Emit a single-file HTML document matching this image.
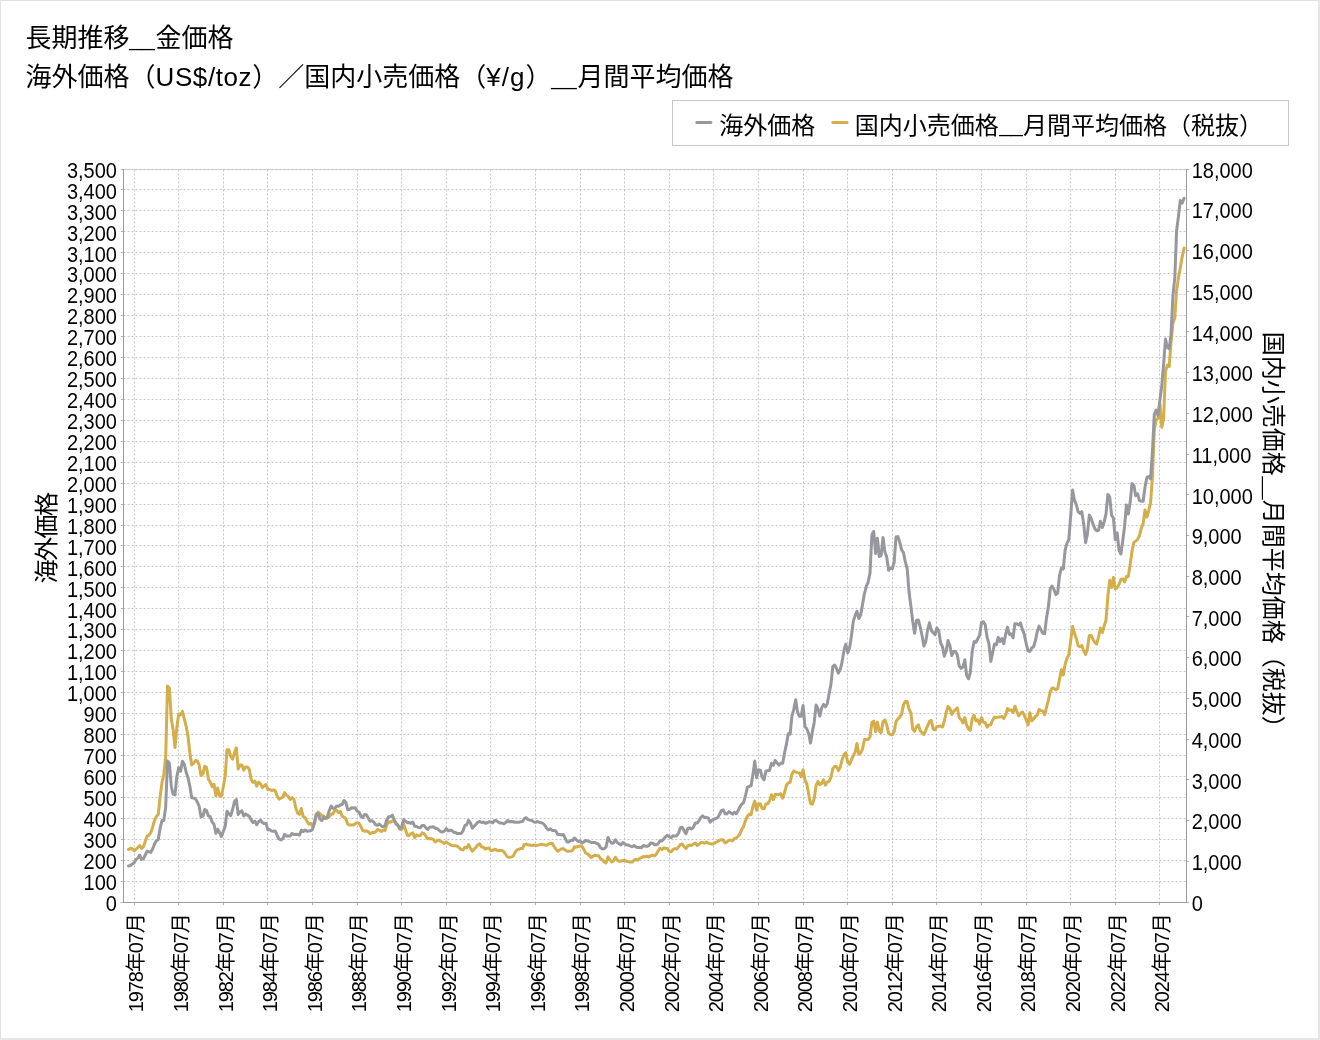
<!DOCTYPE html>
<html lang="ja"><head><meta charset="utf-8"><title>長期推移__金価格</title>
<style>html,body{margin:0;padding:0;background:#fff}body{width:1320px;height:1040px;overflow:hidden}svg{display:block;will-change:transform;font-family:"Liberation Sans", "Noto Sans CJK JP", sans-serif}.t{font-size:26px;fill:#000}.lg{font-size:24px;fill:#000}.ax{font-size:20px;fill:#000}.g{stroke:#c4c4c4;stroke-width:1;stroke-dasharray:2 2;fill:none}.al{stroke:#9c9c9c;stroke-width:1;fill:none}</style></head><body>
<svg width="1320" height="1040" viewBox="0 0 1320 1040">
<rect x="0" y="0" width="1320" height="1040" fill="#fff"/>
<rect x="0" y="0" width="1320" height="1" fill="#e2e2e2"/><rect x="0" y="0" width="1" height="1040" fill="#e2e2e2"/>
<rect x="1318" y="0" width="2" height="1040" fill="#e6e6e6"/><rect x="0" y="1038" width="1320" height="2" fill="#e6e6e6"/>
<text class="t" x="25.5" y="47.4">長期推移</text>
<text font-size="20.47" transform="translate(129.25 46.13) scale(1.1196 1)">__</text>
<text class="t" x="155.5" y="47.4">金価格</text>
<text class="t" y="86.4"><tspan x="25.5">海外価格（</tspan><tspan x="155.5" letter-spacing="0.6">US$/toz</tspan><tspan x="252.3">）／国内小売価格（</tspan><tspan x="486.3" letter-spacing="1.05">¥/g</tspan><tspan x="525.6">）</tspan></text>
<text font-size="20.47" transform="translate(551.34 85.03) scale(1.1110 1)">__</text>
<text class="t" x="577.6" y="86.4">月間平均価格</text>
<rect x="672.5" y="100.5" width="616" height="45" fill="#fff" stroke="#c9c9c9" stroke-width="1"/>
<line x1="696.8" y1="122.5" x2="710.9" y2="122.5" stroke="#96989e" stroke-width="3" stroke-linecap="round"/>
<line x1="832.9" y1="122.5" x2="847" y2="122.5" stroke="#d4ae4a" stroke-width="3" stroke-linecap="round"/>
<text class="lg" x="719.3" y="133.7">海外価格</text>
<text class="lg" x="854.8" y="133.7">国内小売価格</text>
<text font-size="19.69" transform="translate(999.32 132.16) scale(1.0752 1)">__</text>
<text class="lg" x="1023" y="133.7">月間平均価格（税抜）</text>
<path d="M123.5 169.5H1186.5" stroke="#d6d6d6" stroke-width="1" fill="none"/>
<path class="g" d="M123.5 902.5H1186.5M123.5 881.5H1186.5M123.5 860.5H1186.5M123.5 839.5H1186.5M123.5 818.5H1186.5M123.5 797.5H1186.5M123.5 776.5H1186.5M123.5 755.5H1186.5M123.5 734.5H1186.5M123.5 713.5H1186.5M123.5 692.5H1186.5M123.5 671.5H1186.5M123.5 650.5H1186.5M123.5 629.5H1186.5M123.5 608.5H1186.5M123.5 587.5H1186.5M123.5 566.5H1186.5M123.5 545.5H1186.5M123.5 525.5H1186.5M123.5 504.5H1186.5M123.5 483.5H1186.5M123.5 462.5H1186.5M123.5 441.5H1186.5M123.5 420.5H1186.5M123.5 399.5H1186.5M123.5 378.5H1186.5M123.5 357.5H1186.5M123.5 336.5H1186.5M123.5 315.5H1186.5M123.5 294.5H1186.5M123.5 273.5H1186.5M123.5 252.5H1186.5M123.5 231.5H1186.5M123.5 210.5H1186.5M123.5 189.5H1186.5M123.5 169.5H1186.5M134.5 169.5V902.5M178.5 169.5V902.5M223.5 169.5V902.5M267.5 169.5V902.5M312.5 169.5V902.5M357.5 169.5V902.5M401.5 169.5V902.5M446.5 169.5V902.5M490.5 169.5V902.5M535.5 169.5V902.5M580.5 169.5V902.5M624.5 169.5V902.5M669.5 169.5V902.5M713.5 169.5V902.5M758.5 169.5V902.5M803.5 169.5V902.5M847.5 169.5V902.5M892.5 169.5V902.5M936.5 169.5V902.5M981.5 169.5V902.5M1026.5 169.5V902.5M1070.5 169.5V902.5M1115.5 169.5V902.5M1159.5 169.5V902.5"/>
<path d="M123.0 902.5h-2.2M123.0 881.5h-2.2M123.0 860.5h-2.2M123.0 839.5h-2.2M123.0 818.5h-2.2M123.0 797.5h-2.2M123.0 776.5h-2.2M123.0 755.5h-2.2M123.0 734.5h-2.2M123.0 713.5h-2.2M123.0 692.5h-2.2M123.0 671.5h-2.2M123.0 650.5h-2.2M123.0 629.5h-2.2M123.0 608.5h-2.2M123.0 587.5h-2.2M123.0 566.5h-2.2M123.0 545.5h-2.2M123.0 525.5h-2.2M123.0 504.5h-2.2M123.0 483.5h-2.2M123.0 462.5h-2.2M123.0 441.5h-2.2M123.0 420.5h-2.2M123.0 399.5h-2.2M123.0 378.5h-2.2M123.0 357.5h-2.2M123.0 336.5h-2.2M123.0 315.5h-2.2M123.0 294.5h-2.2M123.0 273.5h-2.2M123.0 252.5h-2.2M123.0 231.5h-2.2M123.0 210.5h-2.2M123.0 189.5h-2.2M123.0 169.5h-2.2M1187.0 902.5h2.2M1187.0 861.5h2.2M1187.0 820.5h2.2M1187.0 779.5h2.2M1187.0 739.5h2.2M1187.0 698.5h2.2M1187.0 657.5h2.2M1187.0 616.5h2.2M1187.0 576.5h2.2M1187.0 535.5h2.2M1187.0 494.5h2.2M1187.0 454.5h2.2M1187.0 413.5h2.2M1187.0 372.5h2.2M1187.0 331.5h2.2M1187.0 291.5h2.2M1187.0 250.5h2.2M1187.0 209.5h2.2M1187.0 169.5h2.2M134.5 903.0v2.2M178.5 903.0v2.2M223.5 903.0v2.2M267.5 903.0v2.2M312.5 903.0v2.2M357.5 903.0v2.2M401.5 903.0v2.2M446.5 903.0v2.2M490.5 903.0v2.2M535.5 903.0v2.2M580.5 903.0v2.2M624.5 903.0v2.2M669.5 903.0v2.2M713.5 903.0v2.2M758.5 903.0v2.2M803.5 903.0v2.2M847.5 903.0v2.2M892.5 903.0v2.2M936.5 903.0v2.2M981.5 903.0v2.2M1026.5 903.0v2.2M1070.5 903.0v2.2M1115.5 903.0v2.2M1159.5 903.0v2.2" stroke="#b2b2b2" stroke-width="1" fill="none"/>
<path class="al" d="M123.5 169.0V903.0M123.0 902.5H1187.0M1186.5 169.0V903.0"/>
<g class="ax" text-anchor="end">
<text transform="translate(116.9 910.7) scale(1 1.06)">0</text>
<text transform="translate(116.9 889.8) scale(1 1.06)">100</text>
<text transform="translate(116.9 868.8) scale(1 1.06)">200</text>
<text transform="translate(116.9 847.9) scale(1 1.06)">300</text>
<text transform="translate(116.9 826.9) scale(1 1.06)">400</text>
<text transform="translate(116.9 806.0) scale(1 1.06)">500</text>
<text transform="translate(116.9 785.0) scale(1 1.06)">600</text>
<text transform="translate(116.9 764.1) scale(1 1.06)">700</text>
<text transform="translate(116.9 743.2) scale(1 1.06)">800</text>
<text transform="translate(116.9 722.2) scale(1 1.06)">900</text>
<text transform="translate(116.9 701.3) scale(1 1.06)">1,000</text>
<text transform="translate(116.9 680.3) scale(1 1.06)">1,100</text>
<text transform="translate(116.9 659.4) scale(1 1.06)">1,200</text>
<text transform="translate(116.9 638.4) scale(1 1.06)">1,300</text>
<text transform="translate(116.9 617.5) scale(1 1.06)">1,400</text>
<text transform="translate(116.9 596.6) scale(1 1.06)">1,500</text>
<text transform="translate(116.9 575.6) scale(1 1.06)">1,600</text>
<text transform="translate(116.9 554.7) scale(1 1.06)">1,700</text>
<text transform="translate(116.9 533.7) scale(1 1.06)">1,800</text>
<text transform="translate(116.9 512.8) scale(1 1.06)">1,900</text>
<text transform="translate(116.9 491.8) scale(1 1.06)">2,000</text>
<text transform="translate(116.9 470.9) scale(1 1.06)">2,100</text>
<text transform="translate(116.9 450.0) scale(1 1.06)">2,200</text>
<text transform="translate(116.9 429.0) scale(1 1.06)">2,300</text>
<text transform="translate(116.9 408.1) scale(1 1.06)">2,400</text>
<text transform="translate(116.9 387.1) scale(1 1.06)">2,500</text>
<text transform="translate(116.9 366.2) scale(1 1.06)">2,600</text>
<text transform="translate(116.9 345.2) scale(1 1.06)">2,700</text>
<text transform="translate(116.9 324.3) scale(1 1.06)">2,800</text>
<text transform="translate(116.9 303.4) scale(1 1.06)">2,900</text>
<text transform="translate(116.9 282.4) scale(1 1.06)">3,000</text>
<text transform="translate(116.9 261.5) scale(1 1.06)">3,100</text>
<text transform="translate(116.9 240.5) scale(1 1.06)">3,200</text>
<text transform="translate(116.9 219.6) scale(1 1.06)">3,300</text>
<text transform="translate(116.9 198.6) scale(1 1.06)">3,400</text>
<text transform="translate(116.9 177.7) scale(1 1.06)">3,500</text>
</g>
<g class="ax">
<text transform="translate(1191.7 910.7) scale(1 1.06)">0</text>
<text transform="translate(1191.7 870.0) scale(1 1.06)">1,000</text>
<text transform="translate(1191.7 829.3) scale(1 1.06)">2,000</text>
<text transform="translate(1191.7 788.5) scale(1 1.06)">3,000</text>
<text transform="translate(1191.7 747.8) scale(1 1.06)">4,000</text>
<text transform="translate(1191.7 707.1) scale(1 1.06)">5,000</text>
<text transform="translate(1191.7 666.4) scale(1 1.06)">6,000</text>
<text transform="translate(1191.7 625.6) scale(1 1.06)">7,000</text>
<text transform="translate(1191.7 584.9) scale(1 1.06)">8,000</text>
<text transform="translate(1191.7 544.2) scale(1 1.06)">9,000</text>
<text transform="translate(1191.7 503.5) scale(1 1.06)">10,000</text>
<text transform="translate(1191.7 462.8) scale(1 1.06)">11,000</text>
<text transform="translate(1191.7 422.0) scale(1 1.06)">12,000</text>
<text transform="translate(1191.7 381.3) scale(1 1.06)">13,000</text>
<text transform="translate(1191.7 340.6) scale(1 1.06)">14,000</text>
<text transform="translate(1191.7 299.9) scale(1 1.06)">15,000</text>
<text transform="translate(1191.7 259.1) scale(1 1.06)">16,000</text>
<text transform="translate(1191.7 218.4) scale(1 1.06)">17,000</text>
<text transform="translate(1191.7 177.7) scale(1 1.06)">18,000</text>
</g>
<g class="ax" letter-spacing="-1.11">
<text transform="translate(143.35 1012.2) rotate(-90)">1978年07月</text>
<text transform="translate(187.95 1012.2) rotate(-90)">1980年07月</text>
<text transform="translate(232.55 1012.2) rotate(-90)">1982年07月</text>
<text transform="translate(277.15 1012.2) rotate(-90)">1984年07月</text>
<text transform="translate(321.75 1012.2) rotate(-90)">1986年07月</text>
<text transform="translate(366.35 1012.2) rotate(-90)">1988年07月</text>
<text transform="translate(410.95 1012.2) rotate(-90)">1990年07月</text>
<text transform="translate(455.55 1012.2) rotate(-90)">1992年07月</text>
<text transform="translate(500.15 1012.2) rotate(-90)">1994年07月</text>
<text transform="translate(544.75 1012.2) rotate(-90)">1996年07月</text>
<text transform="translate(589.35 1012.2) rotate(-90)">1998年07月</text>
<text transform="translate(633.95 1012.2) rotate(-90)">2000年07月</text>
<text transform="translate(678.55 1012.2) rotate(-90)">2002年07月</text>
<text transform="translate(723.15 1012.2) rotate(-90)">2004年07月</text>
<text transform="translate(767.75 1012.2) rotate(-90)">2006年07月</text>
<text transform="translate(812.35 1012.2) rotate(-90)">2008年07月</text>
<text transform="translate(856.95 1012.2) rotate(-90)">2010年07月</text>
<text transform="translate(901.55 1012.2) rotate(-90)">2012年07月</text>
<text transform="translate(946.15 1012.2) rotate(-90)">2014年07月</text>
<text transform="translate(990.75 1012.2) rotate(-90)">2016年07月</text>
<text transform="translate(1035.35 1012.2) rotate(-90)">2018年07月</text>
<text transform="translate(1079.95 1012.2) rotate(-90)">2020年07月</text>
<text transform="translate(1124.55 1012.2) rotate(-90)">2022年07月</text>
<text transform="translate(1169.15 1012.2) rotate(-90)">2024年07月</text>
</g>
<text class="lg" letter-spacing="-1.5" transform="translate(54.6 583.5) rotate(-90)">海外価格</text>
<text class="lg" transform="translate(1265.2 331.8) rotate(90)">国内小売価格</text>
<text font-size="18.11" transform="translate(1266.37 476.51) rotate(90) scale(1.1444 1)">__</text>
<text class="lg" transform="translate(1265.2 499.8) rotate(90)">月間平均価格（税抜）</text>
<polyline fill="none" stroke="#d4ae4a" stroke-width="3" stroke-linejoin="round" stroke-linecap="round" points="128.5,849.4 130.4,848.2 132.2,848.7 134.1,850.8 136.0,849.3 137.8,847.5 139.7,845.6 141.5,848.5 143.4,846.9 145.2,841.4 147.1,836.1 149.0,835.0 150.8,832.7 152.7,826.9 154.5,820.3 156.4,816.4 158.3,814.3 160.1,797.1 162.0,782.5 163.8,774.5 165.7,756.7 167.5,686.1 169.4,688.2 171.3,719.0 173.1,729.6 175.0,747.5 176.8,727.6 178.7,713.9 180.6,715.0 182.4,711.4 184.3,719.0 186.1,726.1 188.0,736.3 189.8,752.5 191.7,765.0 193.6,763.3 195.4,760.5 197.3,761.0 199.1,764.7 201.0,775.6 202.9,773.9 204.7,766.2 206.6,767.4 208.4,779.3 210.3,782.3 212.1,786.7 214.0,784.3 215.9,795.7 217.7,788.0 219.6,796.2 221.4,796.3 223.3,786.7 225.2,776.4 227.0,749.7 228.9,749.8 230.7,756.4 232.6,759.2 234.4,753.1 236.3,747.8 238.2,769.0 240.0,764.9 241.9,765.1 243.7,770.1 245.6,766.9 247.5,767.0 249.3,769.3 251.2,779.7 253.0,782.3 254.9,781.0 256.7,786.2 258.6,782.1 260.5,783.8 262.3,787.6 264.2,785.8 266.0,784.5 267.9,789.5 269.8,789.6 271.6,790.5 273.5,789.9 275.3,790.9 277.2,796.0 279.0,799.1 280.9,798.1 282.8,797.2 284.6,792.6 286.5,795.3 288.3,796.5 290.2,799.5 292.1,797.5 293.9,799.3 295.8,808.1 297.6,813.0 299.5,814.3 301.3,808.5 303.2,816.7 305.1,817.7 306.9,820.9 308.8,824.1 310.6,823.4 312.5,826.2 314.4,822.8 316.2,814.0 318.1,812.2 319.9,813.9 321.8,815.9 323.6,816.0 325.5,818.5 327.4,818.0 329.2,816.8 331.1,814.3 332.9,814.0 334.8,810.3 336.7,810.1 338.5,812.7 340.4,811.6 342.2,816.1 344.1,817.2 345.9,818.9 347.8,824.2 349.7,825.0 351.5,824.9 353.4,825.0 355.2,823.7 357.1,822.7 359.0,823.2 360.8,826.4 362.7,830.3 364.5,831.2 366.4,830.8 368.2,831.7 370.1,833.8 372.0,832.5 373.8,832.5 375.7,831.8 377.5,829.5 379.4,830.1 381.3,831.5 383.1,830.1 385.0,830.6 386.8,824.6 388.7,821.7 390.5,822.2 392.4,820.9 394.3,821.3 396.1,822.7 398.0,825.7 399.8,829.1 401.7,829.4 403.6,824.0 405.4,829.3 407.3,835.2 409.1,835.5 411.0,833.7 412.8,832.7 414.7,837.6 416.6,834.9 418.4,835.8 420.3,835.6 422.1,832.8 424.0,833.6 425.9,836.2 427.7,838.8 429.6,838.5 431.4,838.8 433.3,839.4 435.1,842.0 437.0,840.7 438.9,840.0 440.7,841.2 442.6,842.3 444.4,843.4 446.3,841.8 448.2,843.5 450.0,844.5 451.9,845.6 453.7,845.7 455.6,845.8 457.4,846.2 459.3,847.9 461.2,849.5 463.0,849.9 464.9,847.2 466.7,847.9 468.6,844.6 470.5,848.5 472.3,851.3 474.2,849.1 476.0,847.2 477.9,844.8 479.7,843.8 481.6,847.0 483.5,847.3 485.3,849.1 487.2,848.2 489.0,848.0 490.9,850.7 492.8,850.3 494.6,849.2 496.5,850.0 498.3,850.8 500.2,850.4 502.0,850.4 503.9,851.8 505.8,854.5 507.6,857.1 509.5,857.2 511.3,857.0 513.2,856.1 515.1,852.4 516.9,849.9 518.8,849.4 520.6,848.5 522.5,848.4 524.3,844.5 526.2,843.9 528.1,845.1 529.9,845.0 531.8,845.7 533.6,845.1 535.5,845.4 537.4,845.3 539.2,844.9 541.1,844.2 542.9,844.6 544.8,845.0 546.6,845.2 548.5,844.2 550.4,843.4 552.2,843.3 554.1,846.5 555.9,849.2 557.8,851.3 559.7,850.0 561.5,848.9 563.4,848.6 565.2,850.0 567.1,851.2 568.9,851.2 570.8,851.1 572.7,850.1 574.5,846.8 576.4,847.2 578.2,846.5 580.1,846.0 582.0,846.1 583.8,849.4 585.7,853.2 587.5,853.9 589.4,855.5 591.2,857.6 593.1,856.1 595.0,855.1 596.8,855.8 598.7,855.8 600.5,858.7 602.4,859.8 604.3,862.0 606.1,862.9 608.0,856.9 609.8,859.8 611.7,861.9 613.5,861.0 615.4,857.2 617.3,860.0 619.1,861.2 621.0,861.2 622.8,860.4 624.7,860.3 626.6,861.3 628.4,861.7 630.3,861.9 632.1,862.1 634.0,860.2 635.8,859.3 637.7,860.3 639.6,858.4 641.4,857.7 643.3,856.6 645.1,856.9 647.0,856.2 648.9,857.0 650.7,855.8 652.6,855.2 654.4,856.0 656.3,854.2 658.1,851.1 660.0,848.3 661.9,849.6 663.7,848.1 665.6,848.3 667.4,848.4 669.3,851.5 671.2,851.8 673.0,849.5 674.9,848.6 676.7,849.1 678.6,847.0 680.4,844.4 682.3,844.1 684.2,846.9 686.0,848.5 687.9,845.7 689.7,845.1 691.6,845.4 693.5,844.0 695.3,843.0 697.2,845.5 699.0,844.4 700.9,842.5 702.7,842.6 704.6,843.3 706.5,842.0 708.3,843.1 710.2,843.7 712.0,844.1 713.9,843.3 715.8,842.3 717.6,841.7 719.5,840.1 721.3,839.7 723.2,839.9 725.0,842.9 726.9,841.9 728.8,840.4 730.6,840.0 732.5,840.9 734.3,838.5 736.2,837.9 738.1,836.4 739.9,833.8 741.8,829.3 743.6,826.4 745.5,820.6 747.3,816.5 749.2,814.3 751.1,814.7 752.9,806.5 754.8,801.1 756.6,810.3 758.5,803.8 760.4,804.1 762.2,808.5 764.1,808.8 765.9,803.9 767.8,803.6 769.6,800.9 771.5,794.7 773.4,799.7 775.2,794.3 777.1,794.4 778.9,794.4 780.8,793.8 782.7,798.2 784.5,792.7 786.4,785.4 788.2,782.9 790.1,782.3 791.9,774.2 793.8,770.9 795.7,772.1 797.5,772.6 799.4,773.0 801.2,776.9 803.1,769.7 805.0,780.3 806.8,783.8 808.7,794.4 810.5,803.4 812.4,804.2 814.2,798.8 816.1,785.2 818.0,781.5 819.8,784.7 821.7,783.3 823.5,779.9 825.4,785.1 827.3,782.0 829.1,781.3 831.0,777.2 832.8,768.7 834.7,766.4 836.5,766.4 838.4,770.6 840.3,767.0 842.1,759.7 844.0,754.5 845.8,752.7 847.7,762.2 849.6,764.3 851.4,759.9 853.3,755.6 855.1,752.6 857.0,743.5 858.8,754.3 860.7,753.0 862.6,748.8 864.4,739.5 866.3,739.5 868.1,739.5 870.0,737.0 871.9,722.6 873.7,721.0 875.6,731.7 877.4,722.1 879.3,730.9 881.1,732.7 883.0,721.7 884.9,719.9 886.7,724.7 888.6,733.5 890.4,734.5 892.3,734.8 894.2,731.5 896.0,721.4 897.9,719.0 899.7,717.0 901.6,714.4 903.4,704.9 905.3,701.4 907.2,701.5 909.0,709.1 910.9,712.7 912.7,729.1 914.6,731.3 916.5,726.7 918.3,724.8 920.2,730.8 922.0,732.6 923.9,734.5 925.7,730.3 927.6,725.9 929.5,721.2 931.3,720.5 933.2,729.1 935.0,729.8 936.9,726.5 938.8,726.3 940.6,726.1 942.5,726.9 944.3,721.0 946.2,712.5 948.0,706.4 949.9,708.5 951.8,714.4 953.6,711.4 955.5,709.7 957.3,707.8 959.2,717.7 961.1,719.6 962.9,722.9 964.8,717.6 966.6,724.8 968.5,729.1 970.3,730.2 972.2,719.0 974.1,715.3 975.9,720.8 977.8,720.0 979.6,724.2 981.5,717.6 983.4,722.3 985.2,722.6 987.1,727.1 988.9,724.9 990.8,724.8 992.6,720.2 994.5,717.1 996.4,717.5 998.2,717.3 1000.1,716.9 1001.9,716.5 1003.8,718.4 1005.7,714.9 1007.5,708.5 1009.4,710.3 1011.2,710.0 1013.1,712.6 1014.9,706.2 1016.8,711.4 1018.7,715.8 1020.5,713.5 1022.4,712.0 1024.2,715.0 1026.1,719.7 1028.0,725.0 1029.8,712.7 1031.7,720.9 1033.5,719.0 1035.4,716.4 1037.2,715.3 1039.1,709.5 1041.0,710.6 1042.8,711.1 1044.7,714.7 1046.5,707.5 1048.4,699.9 1050.3,691.5 1052.1,688.0 1054.0,688.3 1055.8,689.9 1057.7,688.6 1059.5,679.1 1061.4,669.7 1063.3,674.9 1065.1,664.3 1067.0,658.4 1068.8,654.7 1070.7,640.9 1072.6,626.4 1074.4,632.9 1076.3,638.5 1078.1,645.6 1080.0,646.7 1081.8,645.4 1083.7,651.1 1085.6,654.5 1087.4,648.5 1089.3,635.6 1091.1,635.4 1093.0,639.4 1094.9,642.6 1096.7,644.0 1098.6,636.8 1100.4,628.0 1102.3,632.5 1104.1,626.2 1106.0,620.2 1107.9,596.1 1109.7,580.3 1111.6,587.4 1113.4,577.4 1115.3,588.8 1117.2,587.7 1119.0,584.6 1120.9,579.4 1122.7,578.8 1124.6,582.0 1126.4,576.6 1128.3,576.6 1130.2,564.2 1132.0,551.4 1133.9,542.4 1135.7,541.1 1137.6,539.5 1139.5,535.3 1141.3,528.4 1143.2,523.4 1145.0,510.0 1146.9,517.1 1148.7,510.8 1150.6,502.4 1152.5,475.8 1154.3,429.7 1156.2,419.5 1158.0,418.5 1159.9,403.6 1161.8,427.5 1163.6,418.3 1165.5,371.4 1167.3,365.1 1169.2,366.6 1171.0,342.6 1172.9,323.5 1174.8,317.7 1176.6,290.6 1178.5,277.4 1180.3,267.7 1182.2,256.8 1184.1,248.0"/>
<polyline fill="none" stroke="#96989e" stroke-width="3" stroke-linejoin="round" stroke-linecap="round" points="128.5,865.9 130.4,865.6 132.2,864.0 134.1,862.9 136.0,859.4 137.8,858.1 139.7,855.0 141.5,859.4 143.4,858.9 145.2,855.0 147.1,851.2 149.0,851.8 150.8,852.4 152.7,848.7 154.5,844.1 156.4,840.7 158.3,839.5 160.1,828.2 162.0,820.6 163.8,820.4 165.7,807.2 167.5,761.1 169.4,763.2 171.3,786.5 173.1,794.2 175.0,794.9 176.8,776.8 178.7,767.6 180.6,771.2 182.4,761.3 184.3,764.1 186.1,772.0 188.0,777.9 189.8,785.8 191.7,797.8 193.6,798.0 195.4,798.8 197.3,802.0 199.1,806.0 201.0,816.8 202.9,816.4 204.7,809.5 206.6,810.8 208.4,816.0 210.3,816.6 212.1,822.1 214.0,824.2 215.9,833.4 217.7,829.2 219.6,832.6 221.4,836.5 223.3,831.5 225.2,826.3 227.0,811.2 228.9,813.9 230.7,815.6 232.6,809.5 234.4,801.8 236.3,799.5 238.2,814.5 240.0,811.8 241.9,810.8 243.7,816.0 245.6,813.9 247.5,815.4 249.3,816.2 251.2,820.0 253.0,822.5 254.9,821.2 256.7,824.8 258.6,821.7 260.5,820.0 262.3,822.7 264.2,823.5 266.0,823.3 267.9,829.8 269.8,829.6 271.6,831.1 273.5,831.3 275.3,831.1 277.2,835.5 279.0,839.0 280.9,839.9 282.8,838.8 284.6,834.4 286.5,836.1 288.3,836.1 290.2,835.9 292.1,833.4 293.9,834.6 295.8,834.2 297.6,834.4 299.5,835.1 301.3,830.2 303.2,831.5 305.1,830.0 306.9,831.3 308.8,830.9 310.6,830.7 312.5,829.4 314.4,823.5 316.2,815.0 318.1,813.7 319.9,819.1 321.8,820.6 323.6,817.1 325.5,818.5 327.4,816.8 329.2,810.8 331.1,806.0 332.9,808.3 334.8,808.0 336.7,806.0 338.5,806.2 340.4,804.9 342.2,804.5 344.1,800.5 345.9,802.6 347.8,809.9 349.7,809.5 351.5,807.8 353.4,808.0 355.2,807.8 357.1,811.0 359.0,812.2 360.8,816.0 362.7,817.5 364.5,814.5 366.4,814.7 368.2,817.9 370.1,821.2 372.0,820.8 373.8,822.1 375.7,824.8 377.5,825.4 379.4,824.0 381.3,826.1 383.1,826.7 385.0,825.6 386.8,820.0 388.7,816.8 390.5,816.6 392.4,815.2 394.3,820.2 396.1,824.2 398.0,825.2 399.8,828.8 401.7,826.7 403.6,819.8 405.4,821.0 407.3,822.7 409.1,822.5 411.0,823.3 412.8,822.1 414.7,826.3 416.6,826.5 418.4,827.5 420.3,827.7 422.1,825.6 424.0,825.4 425.9,827.9 427.7,829.4 429.6,827.3 431.4,827.1 433.3,826.7 435.1,828.2 437.0,828.4 438.9,830.2 440.7,831.7 442.6,831.9 444.4,831.1 446.3,828.6 448.2,830.7 450.0,830.2 451.9,830.5 453.7,832.3 455.6,832.6 457.4,833.6 459.3,833.6 461.2,833.4 463.0,830.9 464.9,825.6 466.7,824.6 468.6,820.4 470.5,823.1 472.3,828.2 474.2,826.3 476.0,824.2 477.9,822.1 479.7,821.5 481.6,822.5 483.5,822.1 485.3,823.3 487.2,822.7 489.0,821.7 490.9,821.9 492.8,822.9 494.6,820.4 496.5,820.8 498.3,822.1 500.2,823.1 502.0,823.1 503.9,823.8 505.8,822.5 507.6,820.6 509.5,821.9 511.3,821.5 513.2,821.7 515.1,822.3 516.9,822.3 518.8,822.3 520.6,821.7 522.5,821.5 524.3,818.7 526.2,817.7 528.1,819.6 529.9,820.2 531.8,820.4 533.6,821.9 535.5,822.3 537.4,821.5 539.2,822.3 541.1,822.7 542.9,823.3 544.8,825.2 546.6,828.2 548.5,829.8 550.4,828.8 552.2,830.5 554.1,830.5 555.9,831.1 557.8,834.6 559.7,834.6 561.5,834.9 563.4,834.4 565.2,838.4 567.1,842.0 568.9,842.0 570.8,840.3 572.7,840.5 574.5,838.0 576.4,839.9 578.2,841.3 580.1,841.1 582.0,843.0 583.8,842.0 585.7,840.5 587.5,840.9 589.4,841.6 591.2,842.4 593.1,842.4 595.0,842.6 596.8,843.4 598.7,844.5 600.5,847.8 602.4,848.9 604.3,848.7 606.1,847.0 608.0,837.4 609.8,841.1 611.7,843.2 613.5,843.0 615.4,839.7 617.3,842.6 619.1,843.9 621.0,844.9 622.8,842.6 624.7,843.7 626.6,845.1 628.4,845.1 630.3,846.0 632.1,846.8 634.0,845.5 635.8,846.8 637.7,847.6 639.6,847.4 641.4,847.8 643.3,845.5 645.1,846.0 647.0,846.4 648.9,845.5 650.7,843.0 652.6,843.2 654.4,844.7 656.3,844.7 658.1,843.7 660.0,840.7 661.9,840.9 663.7,839.0 665.6,836.7 667.4,835.3 669.3,836.7 671.2,837.6 673.0,835.7 674.9,836.1 676.7,835.7 678.6,833.0 680.4,827.7 682.3,827.3 684.2,831.1 686.0,833.8 687.9,828.2 689.7,827.9 691.6,829.0 693.5,827.1 695.3,823.1 697.2,823.1 699.0,820.8 700.9,817.3 702.7,815.8 704.6,817.7 706.5,817.3 708.3,818.1 710.2,822.1 712.0,820.4 713.9,819.1 715.8,818.5 717.6,817.7 719.5,814.5 721.3,810.6 723.2,809.9 725.0,813.7 726.9,813.9 728.8,811.6 730.6,812.7 732.5,814.1 734.3,812.2 736.2,813.7 738.1,810.8 739.9,807.0 741.8,804.1 743.6,802.6 745.5,795.7 747.3,787.3 749.2,786.3 751.1,785.8 752.9,774.5 754.8,761.1 756.6,777.7 758.5,769.7 760.4,770.1 762.2,777.3 764.1,779.8 765.9,771.0 767.8,770.6 769.6,770.4 771.5,763.2 773.4,765.3 775.2,760.3 777.1,762.8 778.9,765.1 780.8,763.2 782.7,763.2 784.5,753.2 786.4,744.4 788.2,733.7 790.1,734.3 791.9,716.1 793.8,709.4 795.7,699.8 797.5,711.9 799.4,716.3 801.2,716.3 803.1,705.6 805.0,726.8 806.8,728.7 808.7,733.5 810.5,743.1 812.4,731.6 814.2,722.6 816.1,705.0 818.0,709.0 819.8,716.1 821.7,707.9 823.5,704.4 825.4,706.9 827.3,703.8 829.1,693.7 831.0,684.1 832.8,666.5 834.7,665.0 836.5,668.4 838.4,673.2 840.3,669.4 842.1,661.9 844.0,650.1 845.8,644.3 847.7,652.7 849.6,647.8 851.4,636.3 853.3,621.4 855.1,615.6 857.0,611.2 858.8,618.5 860.7,615.0 862.6,604.3 864.4,593.8 866.3,586.3 868.1,582.3 870.0,573.1 871.9,534.7 873.7,531.4 875.6,553.6 877.4,538.3 879.3,556.5 881.1,555.7 883.0,537.5 884.9,551.9 886.7,556.9 888.6,570.3 890.4,568.0 892.3,568.7 894.2,562.0 896.0,537.0 897.9,536.6 899.7,541.9 901.6,549.8 903.4,552.5 905.3,561.6 907.2,568.9 909.0,591.5 910.9,606.4 912.7,621.2 914.6,633.2 916.5,620.2 918.3,620.0 920.2,626.9 922.0,635.3 923.9,646.0 925.7,642.0 927.6,630.0 929.5,622.7 931.3,630.5 933.2,632.8 935.0,634.6 936.9,627.9 938.8,631.1 940.6,643.0 942.5,646.6 944.3,656.2 946.2,651.0 948.0,640.5 949.9,645.5 951.8,655.6 953.6,651.6 955.5,651.4 957.3,655.0 959.2,665.8 961.1,668.4 962.9,666.9 964.8,659.8 966.6,675.1 968.5,678.8 970.3,672.8 972.2,651.2 974.1,641.6 975.9,642.4 977.8,638.8 979.6,635.3 981.5,622.5 983.4,621.7 985.2,624.8 987.1,637.2 988.9,643.6 990.8,661.4 992.6,652.9 994.5,644.1 996.4,644.7 998.2,637.4 1000.1,641.6 1001.9,638.6 1003.8,643.6 1005.7,633.8 1007.5,627.1 1009.4,634.4 1011.2,634.0 1013.1,637.8 1014.9,623.8 1016.8,623.8 1018.7,625.0 1020.5,622.9 1022.4,629.6 1024.2,634.0 1026.1,643.2 1028.0,650.8 1029.8,651.4 1031.7,648.0 1033.5,646.8 1035.4,640.7 1037.2,631.9 1039.1,626.1 1041.0,630.0 1042.8,633.2 1044.7,633.6 1046.5,617.9 1048.4,606.6 1050.3,588.4 1052.1,586.1 1054.0,589.4 1055.8,594.6 1057.7,592.8 1059.5,575.6 1061.4,568.0 1063.3,569.1 1065.1,550.0 1067.0,543.1 1068.8,539.8 1070.7,515.7 1072.6,490.1 1074.4,500.0 1076.3,504.6 1078.1,511.7 1080.0,513.4 1081.8,511.5 1083.7,523.9 1085.6,542.7 1087.4,533.9 1089.3,515.1 1091.1,518.2 1093.0,524.1 1094.9,528.7 1096.7,530.8 1098.6,530.3 1100.4,521.3 1102.3,527.6 1104.1,522.2 1106.0,513.8 1107.9,494.5 1109.7,497.0 1111.6,515.3 1113.4,517.8 1115.3,539.6 1117.2,532.9 1119.0,550.0 1120.9,554.0 1122.7,541.0 1124.6,526.2 1126.4,505.0 1128.3,514.0 1130.2,502.1 1132.0,483.6 1133.9,485.3 1135.7,495.8 1137.6,493.9 1139.5,500.6 1141.3,501.2 1143.2,501.2 1145.0,487.0 1146.9,477.6 1148.7,476.5 1150.6,478.8 1152.5,450.6 1154.3,414.3 1156.2,410.1 1158.0,415.4 1159.9,400.3 1161.8,385.2 1163.6,364.1 1165.5,339.1 1167.3,347.3 1169.2,348.8 1171.0,334.9 1172.9,296.2 1174.8,277.8 1176.6,230.7 1178.5,216.0 1180.3,200.5 1182.2,203.0 1184.1,198.2"/>
</svg></body></html>
